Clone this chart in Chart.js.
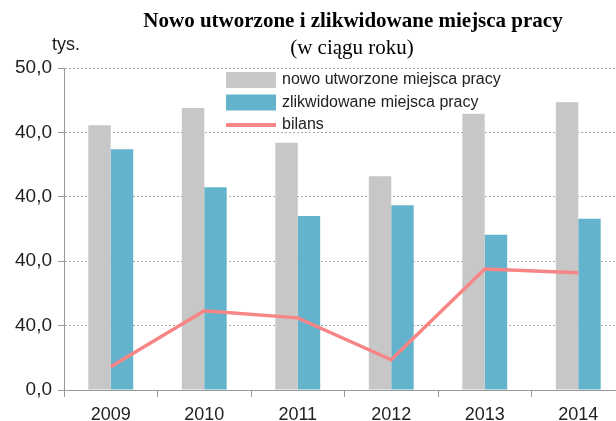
<!DOCTYPE html>
<html>
<head>
<meta charset="utf-8">
<script src="https://cdn.jsdelivr.net/npm/chart.js@4"></script>
<style>
  html, body { margin: 0; padding: 0; background: #fff; overflow: hidden; }
  #wrap { width: 640px; height: 421px; position: relative; }
</style>
</head>
<body>
<div id="wrap"><canvas id="jobsChart"></canvas></div>
<script>
const years = ['2009', '2010', '2011', '2012', '2013', '2014'];
const created = [41.1, 43.8, 38.4, 33.2, 42.9, 44.7];
const removed = [37.4, 31.5, 27.0, 28.7, 24.1, 26.6];
const balance = [3.6, 12.3, 11.2, 4.7, 18.8, 18.2];
const yTickLabels = ['0,0', '40,0', '40,0', '40,0', '40,0', '50,0'];
const seriesNames = ['nowo utworzone miejsca pracy', 'zlikwidowane miejsca pracy', 'bilans'];

// title, unit and the legend that sits inside the plot
const decorations = {
  id: 'decorations',
  afterDraw(chart) {
    const c = chart.ctx;
    c.save();
    c.fillStyle = '#000';
    c.textAlign = 'center';
    c.textBaseline = 'alphabetic';
    c.font = 'bold 21px "Liberation Serif"';
    c.fillText('Nowo utworzone i zlikwidowane miejsca pracy', 353, 27);
    c.font = '21px "Liberation Serif"';
    c.fillText('(w ciągu roku)', 352, 54);

    c.textAlign = 'left';
    c.fillStyle = '#222';
    c.font = '18px "Liberation Sans"';
    c.fillText('tys.', 52, 50);

    c.font = '16px "Liberation Sans"';
    c.textBaseline = 'middle';
    const order = [1, 2, 0];
    order.forEach((di, i) => {
      const ds = chart.data.datasets[di];
      const y = 80 + i * 22.5;
      if (ds.type === 'line') {
        c.fillStyle = ds.borderColor;
        c.fillRect(226, y - 2, 50, 4);
      } else {
        c.fillStyle = ds.backgroundColor;
        c.fillRect(226, y - 8, 50, 16);
      }
      c.fillStyle = '#222';
      c.fillText(ds.label, 282, y);
    });
    c.restore();
  }
};

new Chart(document.getElementById('jobsChart'), {
  data: {
    labels: years,
    datasets: [
      {
        type: 'line',
        label: seriesNames[2],
        data: balance,
        borderColor: '#f88585',
        borderWidth: 3.5,
        pointRadius: 0,
        tension: 0,
        order: 0
      },
      {
        type: 'bar',
        label: seriesNames[0],
        data: created,
        backgroundColor: '#c6c7c6',
        categoryPercentage: 0.48,
        barPercentage: 1.0,
        order: 1
      },
      {
        type: 'bar',
        label: seriesNames[1],
        data: removed,
        backgroundColor: '#62b3cb',
        categoryPercentage: 0.48,
        barPercentage: 1.0,
        order: 1
      }
    ]
  },
  options: {
    responsive: true,
    maintainAspectRatio: false,
    animation: false,
    layout: { padding: { top: 68, right: 15, left: 0, bottom: 0 } },
    plugins: {
      legend: { display: false },
      title: { display: false },
      tooltip: { enabled: false }
    },
    scales: {
      x: {
        offset: true,
        grid: {
          offset: true,
          drawOnChartArea: false,
          drawTicks: true,
          tickLength: 7,
          tickColor: '#999'
        },
        border: { color: '#999', width: 1 },
        ticks: {
          color: '#222',
          padding: 7,
          font: { family: 'Liberation Sans', size: 18 }
        },
        afterFit(scale) { scale.height = 31; }
      },
      y: {
        min: 0,
        max: 50,
        grid: {
          color: '#a8a8a8',
          lineWidth: 1,
          tickLength: 6,
          tickColor: '#999',
          tickBorderDash: []
        },
        border: { color: '#999', width: 1, dash: [2, 2] },
        ticks: {
          stepSize: 10,
          color: '#222',
          padding: 6,
          font: { family: 'Liberation Sans', size: 19 },
          callback: (v, i) => yTickLabels[i]
        },
        afterFit(scale) { scale.width = 64; }
      }
    }
  },
  plugins: [decorations]
});
</script>
</body>
</html>
